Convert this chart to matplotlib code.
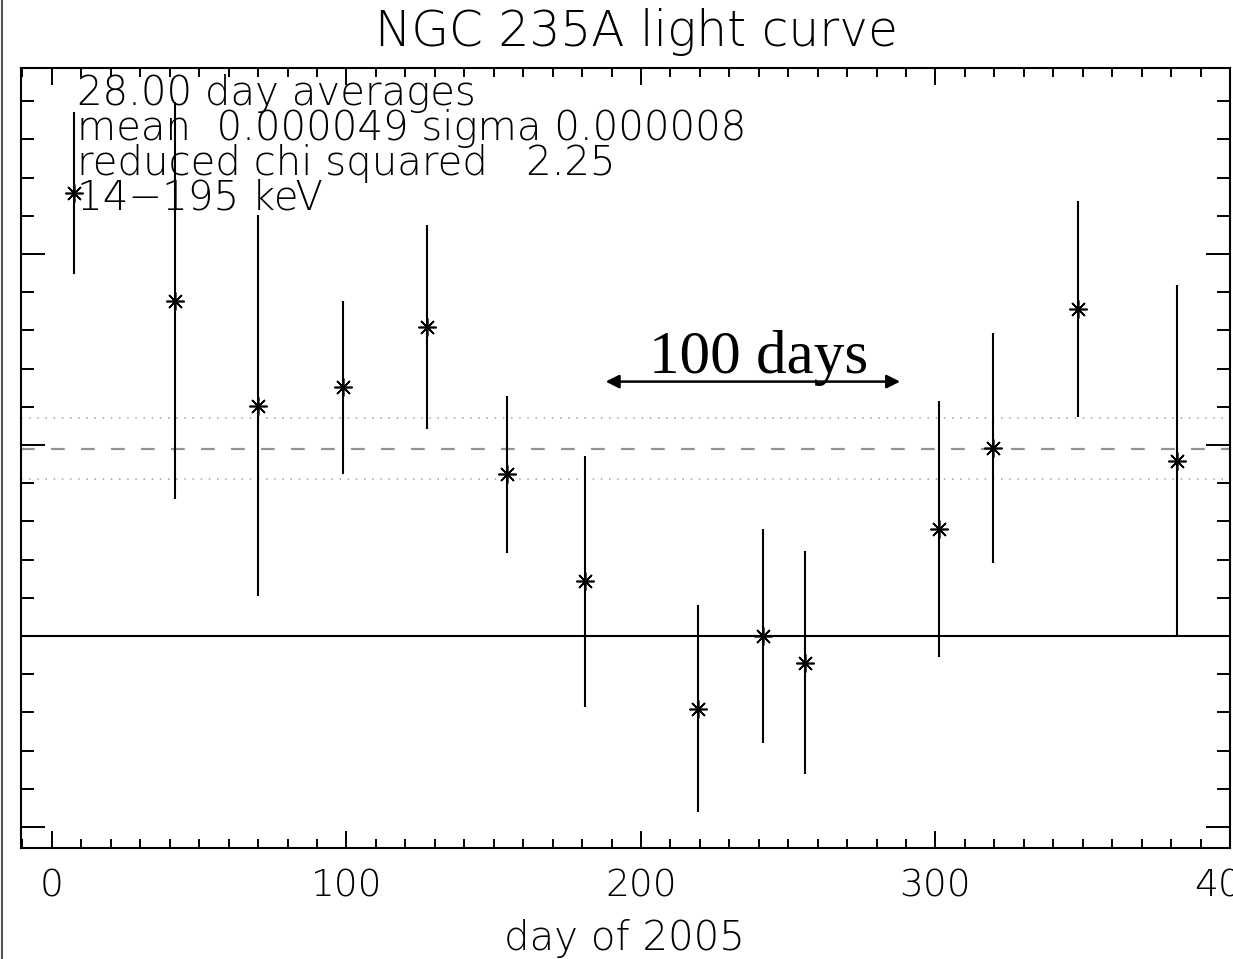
import matplotlib
matplotlib.use("Agg")
import matplotlib.pyplot as plt
from matplotlib.lines import Line2D
from matplotlib.ticker import MultipleLocator
import numpy as np

# 28-day averaged BAT rates, 14-195 keV
day = [7.6, 41.9, 70.1, 99.0, 127.2, 154.4, 181.1, 219.5, 241.4, 255.8,
       301.1, 319.6, 348.4, 381.9]
rate_e5 = [11.59, 8.78, 6.03, 6.51, 8.08, 4.23, 1.43, -1.91, 0.00, -0.70,
           2.80, 4.93, 8.56, 4.59]
err_e5 = [2.12, 5.20, 4.99, 2.26, 2.67, 2.05, 3.29, 2.71, 2.79, 2.92,
          3.35, 3.01, 2.83, 4.61]

mean_rate = 0.000049
sigma_rate = 0.000008
red_chi2 = 2.25
bin_days = 28.0
scale_days = 100

rate = np.array(rate_e5) * 1e-5
err = np.array(err_e5) * 1e-5

W, H = 1233, 959
plt.rcParams["font.family"] = "DejaVu Sans"
plt.rcParams["font.weight"] = 200

fig = plt.figure(figsize=(W / 100, H / 100), dpi=100)
ax = fig.add_axes([21 / W, (H - 848) / H, (1230 - 21) / W, (848 - 68) / H])

ax.set_xlim(-10.5, 400)
ax.set_ylim(-5.55e-5, 14.87e-5)

ax.axhline(0, color="black", lw=1.5, zorder=1)
ax.axhline(mean_rate, color="#939393", lw=1.6, ls=(0, (6.2, 7.3)), zorder=1)
for s in (-1, 1):
    ax.axhline(mean_rate + s * sigma_rate, color="#a8a8a8", lw=1.2,
               ls=(0, (0.9, 4.0)), zorder=1)

ax.errorbar(day, rate, yerr=err, fmt="none", ecolor="black", elinewidth=1.5,
            capsize=0, zorder=2)
ax.plot(day, rate, ls="none", marker=(8, 2, 0), ms=13, mec="black",
        mew=1.2, zorder=3)

# 100-day scale bar
y_bar = 6.66e-5
ax.annotate("", xy=(188 + scale_days, y_bar), xytext=(188, y_bar),
            arrowprops=dict(arrowstyle="<|-|>", color="black", lw=1.8,
                            mutation_scale=20, shrinkA=0, shrinkB=0))
ax.text(188 + scale_days / 2 + 2, 6.89e-5, f"{scale_days} days",
        family="Liberation Serif", fontweight="normal", fontsize=44,
        ha="center", va="baseline")

ax.xaxis.set_major_locator(MultipleLocator(100))
ax.xaxis.set_minor_locator(MultipleLocator(10))
ax.yaxis.set_major_locator(MultipleLocator(5e-5))
ax.yaxis.set_minor_locator(MultipleLocator(1e-5))
ax.tick_params(which="both", direction="in", top=True, right=True,
               width=1.4, labelleft=False, labelsize=27)
ax.tick_params(axis="x", which="major", length=12.2, pad=15)
ax.tick_params(axis="x", which="minor", length=6.8)
ax.tick_params(axis="y", which="major", length=17.3)
ax.tick_params(axis="y", which="minor", length=9.1)
for sp in ax.spines.values():
    sp.set_linewidth(1.5)

# header text inside the frame
info = [f"{bin_days:.2f} day averages",
        f"mean  {mean_rate:.6f} sigma {sigma_rate:.6f}",
        f"reduced chi squared   {red_chi2:.2f}",
        "14\u2212195 keV"]
for i, line in enumerate(info):
    fig.text(77 / W, 1 - (105 + 35 * i) / H, line, fontsize=29,
             ha="left", va="baseline")

fig.text(636 / W, 1 - 46 / H, "NGC 235A light curve", fontsize=35,
         ha="center", va="baseline")
fig.text(624 / W, 1 - 950 / H, "day of 2005", fontsize=29,
         ha="center", va="baseline")

fig.add_artist(Line2D([1.5 / W, 1.5 / W], [0, 1], color="#555555", lw=1.5))

fig.savefig("out.png", dpi=100)
